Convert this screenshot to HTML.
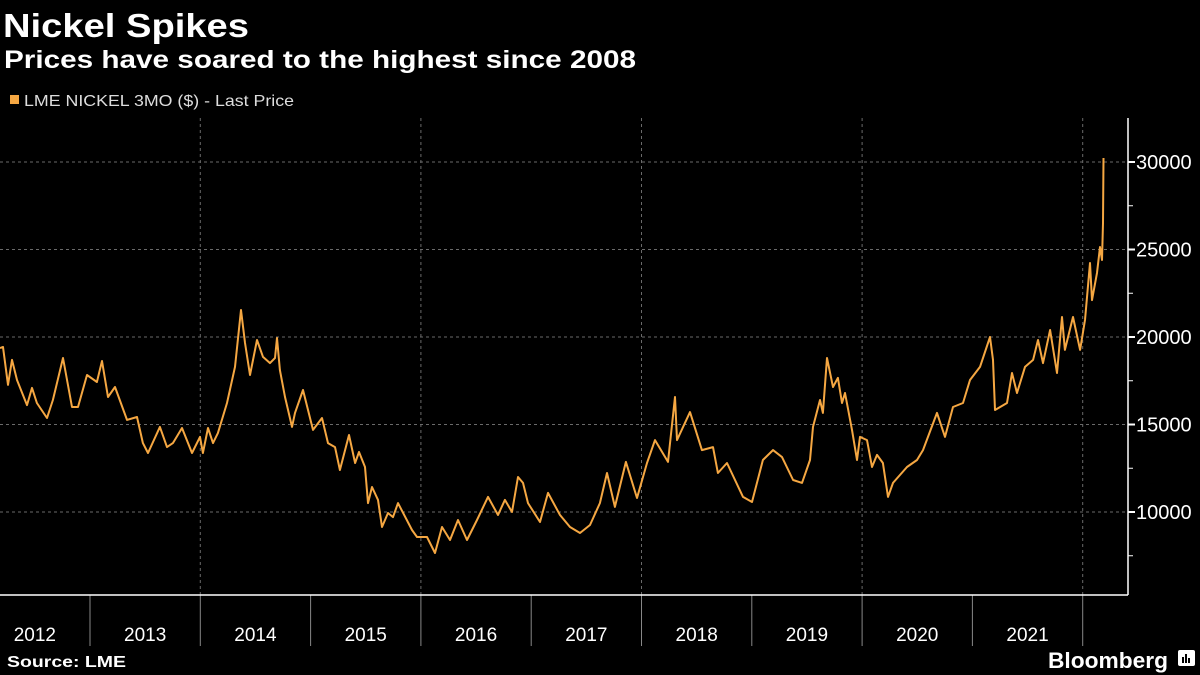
<!DOCTYPE html>
<html><head><meta charset="utf-8"><style>
html,body{margin:0;padding:0;background:#000;}
svg{display:block;font-family:"Liberation Sans",sans-serif;}
</style></head><body>
<svg id="chart" width="1200" height="675" viewBox="0 0 1200 675">
<rect width="1200" height="675" fill="#000"/>
<text x="3" y="37" font-size="33" font-weight="bold" fill="#fff" textLength="246" lengthAdjust="spacingAndGlyphs">Nickel Spikes</text>
<text x="4" y="68" font-size="25" font-weight="bold" fill="#fff" textLength="632" lengthAdjust="spacingAndGlyphs">Prices have soared to the highest since 2008</text>
<g>
<rect x="10" y="95" width="9" height="9" fill="#f5a742"/>
<text x="24" y="106" font-size="16" fill="#ddd" textLength="270" lengthAdjust="spacingAndGlyphs">LME NICKEL 3MO ($) - Last Price</text>
</g>
<g id="grid"></g>
<g id="axes"></g>
<path id="line" fill="none" stroke="#f5a742" stroke-width="2" stroke-linejoin="round"/>
<text x="7" y="667" font-size="16" font-weight="bold" fill="#fff" textLength="119" lengthAdjust="spacingAndGlyphs">Source: LME</text>
<text x="1048" y="668" font-size="22" font-weight="bold" fill="#fff" textLength="120" lengthAdjust="spacingAndGlyphs">Bloomberg</text>
<g>
<rect x="1178" y="650" width="17" height="16" rx="2" fill="#fff"/>
<rect x="1182" y="657" width="2" height="6" fill="#000"/><rect x="1185" y="654" width="2" height="9" fill="#000"/><rect x="1188" y="658" width="2" height="5" fill="#000"/>
</g>
</svg>
<script>
const dates=[2012.184,2012.211,2012.257,2012.293,2012.338,2012.429,2012.474,2012.519,2012.610,2012.664,2012.755,2012.837,2012.891,2012.973,2013.063,2013.109,2013.163,2013.227,2013.335,2013.426,2013.480,2013.526,2013.634,2013.698,2013.752,2013.834,2013.925,2013.997,2014.024,2014.070,2014.115,2014.160,2014.242,2014.315,2014.369,2014.405,2014.451,2014.514,2014.568,2014.632,2014.677,2014.695,2014.722,2014.768,2014.831,2014.859,2014.931,2015.022,2015.103,2015.158,2015.221,2015.266,2015.348,2015.403,2015.439,2015.493,2015.520,2015.557,2015.611,2015.647,2015.702,2015.747,2015.792,2015.919,2015.965,2016.055,2016.128,2016.191,2016.264,2016.336,2016.418,2016.509,2016.608,2016.699,2016.762,2016.826,2016.880,2016.926,2016.971,2017.080,2017.152,2017.261,2017.352,2017.442,2017.533,2017.623,2017.687,2017.759,2017.859,2017.959,2018.050,2018.122,2018.240,2018.304,2018.322,2018.440,2018.548,2018.648,2018.693,2018.775,2018.920,2019.002,2019.101,2019.192,2019.274,2019.374,2019.455,2019.528,2019.555,2019.618,2019.645,2019.682,2019.736,2019.781,2019.818,2019.845,2019.908,2019.954,2019.981,2020.044,2020.090,2020.135,2020.189,2020.235,2020.280,2020.407,2020.498,2020.552,2020.679,2020.752,2020.824,2020.915,2020.978,2021.069,2021.160,2021.187,2021.205,2021.314,2021.359,2021.404,2021.477,2021.550,2021.595,2021.640,2021.704,2021.767,2021.812,2021.839,2021.912,2021.976,2022.021,2022.066,2022.084,2022.130,2022.157,2022.175,2022.184,2022.189];
const prices=[19370,19430,17260,18690,17540,16110,17090,16230,15370,16400,18800,16000,16000,17830,17430,18630,16570,17140,15260,15430,13940,13370,14860,13710,13940,14800,13370,14290,13370,14800,13940,14510,16230,18290,21540,19660,17830,19830,18860,18510,18800,19940,18110,16570,14860,15660,16970,14690,15370,13940,13710,12400,14400,12800,13430,12570,10510,11430,10690,9140,9940,9710,10510,8970,8570,8570,7660,9140,8400,9540,8400,9540,10860,9830,10690,10000,12000,11660,10510,9430,11090,9830,9140,8800,9260,10510,12230,10290,12860,10800,12800,14110,12860,16570,14110,15710,13540,13710,12230,12800,10860,10570,12970,13540,13140,11830,11660,12970,14860,16400,15660,18800,17140,17660,16230,16800,14690,12970,14290,14110,12570,13260,12800,10860,11660,12570,12970,13540,15660,14290,16000,16230,17540,18290,20000,18690,15830,16230,17940,16800,18290,18690,19830,18510,20400,17940,21140,19260,21140,19260,20970,24230,22110,23660,25140,24400,26510,30230];
const yearLabels=["2012","2013","2014","2015","2016","2017","2018","2019","2020","2021"];
const yTicks=[10000,15000,20000,25000,30000];
const yMinor=[7500,12500,17500,22500,27500];

const X0=-20.3, YW=110.3;
function xs(t){return X0+(t-2012)*YW;}
function ys(v){return 512-(v-10000)*0.0175;}
const NS="http://www.w3.org/2000/svg";
function mk(tag,attrs,parent){const e=document.createElementNS(NS,tag);for(const k in attrs)e.setAttribute(k,attrs[k]);parent.appendChild(e);return e;}
const grid=document.getElementById('grid'), axes=document.getElementById('axes');
const AX=1128, TOP=118, BOT=595;
yTicks.forEach(v=>{
  const y=ys(v);
  const g=mk('line',{x1:0,x2:AX,y1:y,y2:y,stroke:'#6a6a6a','stroke-width':1,'stroke-dasharray':'3,3'},grid);
  
  
  const t=mk('line',{x1:AX,x2:AX+7,y1:y,y2:y,stroke:'#fff','stroke-width':2},axes);
  
  
  const l=mk('text',{x:1136,y:y+7,'font-size':20,fill:'#fff'},axes);
  l.textContent=String(v);
  
  
});
yMinor.forEach(v=>{
  const y=ys(v);
  const t=mk('line',{x1:AX,x2:AX+5,y1:y,y2:y,stroke:'#fff','stroke-width':1},axes);
  
  
});
yearLabels.forEach((lab,i)=>{
  const yr=2012+i;
  const xb=xs(yr+1);
  if(yr%2===1){
    const g=mk('line',{x1:xb,x2:xb,y1:TOP,y2:BOT,stroke:'#6a6a6a','stroke-width':1,'stroke-dasharray':'3,3'},grid);
    
    
  }
  const s=mk('line',{x1:xb,x2:xb,y1:BOT,y2:646,stroke:'#888','stroke-width':1},axes);
  
  
  const t=mk('text',{x:xs(yr+0.5),y:641,'font-size':19,fill:'#fff','text-anchor':'middle'},axes);
  t.textContent=lab;
  
  
});
const xa=mk('line',{x1:0,x2:AX,y1:BOT,y2:BOT,stroke:'#fff','stroke-width':1.5},axes);


const ya=mk('line',{x1:AX,x2:AX,y1:TOP,y2:BOT,stroke:'#fff','stroke-width':1.5},axes);


let d='';
const n=Math.min(dates.length,prices.length);
for(let i=0;i<n;i++){d+=(i?'L':'M')+xs(dates[i]).toFixed(1)+','+ys(prices[i]).toFixed(1);}
document.getElementById('line').setAttribute('d',d);
</script>
</body></html>
